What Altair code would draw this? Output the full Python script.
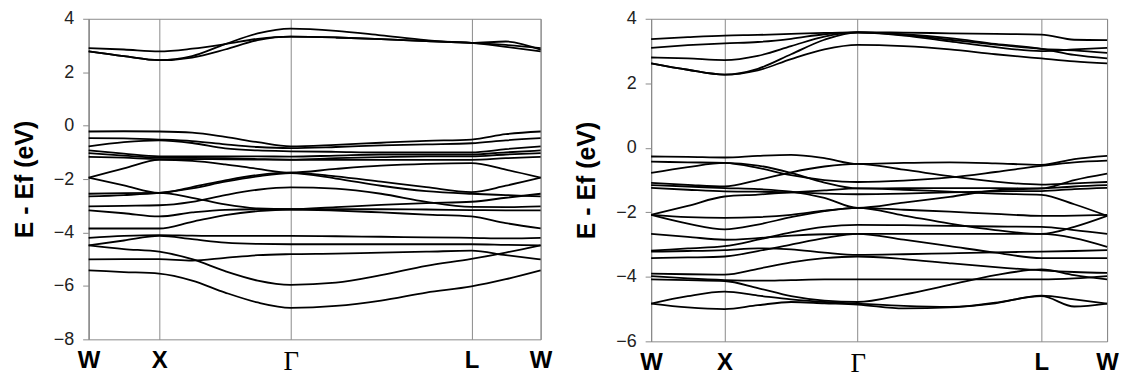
import altair as alt
import pandas as pd

# ---- k-path sample positions (fraction of path length) ----
# columns: W, W-X, X, X-G (3 points), Gamma, G-L (3 points), L, L-W, W
k_left = [0.0, 0.078, 0.156, 0.229, 0.302, 0.374, 0.447, 0.547, 0.647, 0.747, 0.847, 0.923, 1.0]
k_right = [0.0, 0.0805, 0.161, 0.234, 0.307, 0.380, 0.453, 0.554, 0.655, 0.755, 0.856, 0.928, 1.0]

sym_left = [0.0, 0.156, 0.447, 0.847, 1.0]
sym_right = [0.0, 0.161, 0.453, 0.856, 1.0]
sym_names = ["W", "X", "\u0393", "L", "W"]

# ---- left panel bands (eV) ----
left_conduction = [
    [2.90, 2.85, 2.78, 2.88, 3.05, 3.25, 3.33, 3.30, 3.24, 3.16, 3.10, 3.02, 2.90],
    [2.78, 2.60, 2.45, 2.60, 3.05, 3.45, 3.63, 3.55, 3.38, 3.20, 3.10, 3.15, 2.84],
    [2.78, 2.60, 2.45, 2.55, 2.85, 3.20, 3.33, 3.30, 3.24, 3.16, 3.10, 2.95, 2.78],
]
left_valence = [
    [-0.22, -0.21, -0.22, -0.26, -0.42, -0.62, -0.78, -0.72, -0.64, -0.57, -0.52, -0.32, -0.22],
    [-0.47, -0.48, -0.52, -0.58, -0.70, -0.80, -0.84, -0.80, -0.74, -0.70, -0.66, -0.55, -0.47],
    [-0.78, -0.62, -0.55, -0.65, -0.85, -0.93, -0.96, -0.98, -1.00, -1.00, -1.00, -0.88, -0.78],
    [-0.93, -1.05, -1.15, -1.15, -1.15, -1.15, -1.16, -1.12, -1.08, -1.08, -1.08, -1.00, -0.93],
    [-1.03, -1.12, -1.20, -1.21, -1.22, -1.25, -1.27, -1.22, -1.18, -1.15, -1.15, -1.08, -1.03],
    [-1.17, -1.20, -1.25, -1.25, -1.26, -1.27, -1.28, -1.28, -1.28, -1.28, -1.28, -1.22, -1.17],
    [-1.95, -1.60, -1.28, -1.32, -1.45, -1.62, -1.76, -1.62, -1.50, -1.43, -1.40, -1.65, -1.95],
    [-1.95, -2.24, -2.52, -2.30, -2.05, -1.85, -1.76, -1.90, -2.10, -2.30, -2.49, -2.25, -1.95],
    [-2.55, -2.53, -2.52, -2.70, -2.95, -3.10, -3.13, -3.05, -2.97, -2.90, -2.85, -2.70, -2.55],
    [-2.65, -2.60, -2.52, -2.35, -2.10, -1.90, -1.78, -1.98, -2.25, -2.45, -2.55, -2.60, -2.65],
    [-3.02, -3.00, -2.98, -2.85, -2.60, -2.40, -2.31, -2.36, -2.55, -2.85, -3.04, -3.05, -3.02],
    [-3.17, -3.28, -3.40, -3.25, -3.15, -3.13, -3.13, -3.13, -3.13, -3.14, -3.16, -3.17, -3.17],
    [-3.85, -3.85, -3.85, -3.60, -3.35, -3.20, -3.14, -3.18, -3.25, -3.33, -3.40, -3.65, -3.85],
    [-4.20, -4.13, -4.10, -4.12, -4.13, -4.13, -4.13, -4.14, -4.16, -4.18, -4.20, -4.22, -4.20],
    [-4.48, -4.30, -4.13, -4.25, -4.38, -4.43, -4.44, -4.44, -4.44, -4.44, -4.44, -4.46, -4.48],
    [-4.48, -4.62, -4.72, -5.00, -5.45, -5.80, -5.96, -5.88, -5.60, -5.25, -4.99, -4.75, -4.48],
    [-5.01, -5.00, -5.00, -5.05, -4.95, -4.85, -4.81, -4.79, -4.75, -4.72, -4.68, -4.85, -5.01],
    [-5.42, -5.48, -5.54, -5.80, -6.25, -6.62, -6.82, -6.75, -6.55, -6.25, -6.02, -5.75, -5.42],
]

# ---- right panel bands (eV) ----
right_conduction = [
    [3.37, 3.43, 3.48, 3.50, 3.53, 3.56, 3.58, 3.57, 3.55, 3.53, 3.51, 3.35, 3.34],
    [3.10, 3.18, 3.24, 3.28, 3.38, 3.52, 3.58, 3.50, 3.35, 3.20, 3.07, 3.02, 2.94],
    [2.80, 2.77, 2.72, 2.85, 3.15, 3.45, 3.58, 3.48, 3.30, 3.12, 3.00, 3.05, 3.10],
    [2.62, 2.42, 2.27, 2.40, 2.75, 3.05, 3.19, 3.15, 3.05, 2.90, 2.77, 2.68, 2.62],
    [2.62, 2.42, 2.27, 2.45, 2.90, 3.35, 3.58, 3.52, 3.40, 3.22, 3.07, 2.88, 2.77],
]
right_valence = [
    [-0.27, -0.28, -0.30, -0.25, -0.22, -0.32, -0.50, -0.47, -0.45, -0.48, -0.53, -0.35, -0.25],
    [-0.43, -0.45, -0.47, -0.62, -0.85, -1.00, -1.06, -1.02, -0.92, -0.75, -0.56, -0.45, -0.40],
    [-0.78, -0.60, -0.47, -0.55, -0.78, -1.08, -1.26, -1.25, -1.25, -1.25, -1.26, -1.00, -0.80],
    [-1.09, -1.15, -1.20, -1.00, -0.76, -0.58, -0.50, -0.68, -0.88, -1.05, -1.14, -1.10, -1.06],
    [-1.16, -1.20, -1.25, -1.28, -1.36, -1.55, -1.86, -1.70, -1.52, -1.32, -1.26, -1.20, -1.16],
    [-1.24, -1.30, -1.35, -1.36, -1.38, -1.42, -1.44, -1.42, -1.38, -1.35, -1.34, -1.28, -1.24],
    [-2.08, -1.80, -1.51, -1.45, -1.38, -1.32, -1.26, -1.30, -1.36, -1.42, -1.46, -1.75, -2.11],
    [-2.08, -2.15, -2.17, -2.15, -2.08, -1.95, -1.86, -1.92, -1.98, -2.05, -2.11, -2.10, -2.08],
    [-2.08, -2.35, -2.53, -2.38, -2.15, -1.96, -1.86, -2.10, -2.35, -2.55, -2.67, -2.45, -2.11],
    [-2.67, -2.76, -2.85, -2.80, -2.72, -2.68, -2.67, -2.67, -2.67, -2.67, -2.67, -2.80, -3.07],
    [-3.19, -3.12, -3.05, -2.85, -2.62, -2.45, -2.39, -2.40, -2.42, -2.44, -2.45, -2.55, -2.67],
    [-3.22, -3.20, -3.17, -3.12, -3.15, -3.25, -3.32, -3.30, -3.27, -3.24, -3.22, -3.20, -3.17],
    [-3.42, -3.40, -3.37, -3.20, -3.00, -2.80, -2.67, -2.85, -3.05, -3.25, -3.42, -3.42, -3.42],
    [-3.90, -3.92, -3.93, -3.75, -3.55, -3.42, -3.37, -3.45, -3.58, -3.70, -3.80, -3.85, -3.88],
    [-3.98, -4.05, -4.10, -4.12, -4.10, -4.08, -4.08, -4.08, -4.08, -4.08, -4.08, -4.05, -3.98],
    [-4.08, -4.10, -4.13, -4.35, -4.60, -4.74, -4.78, -4.55, -4.25, -3.95, -3.77, -3.95, -4.08],
    [-4.83, -4.60, -4.46, -4.58, -4.70, -4.78, -4.83, -4.90, -4.93, -4.82, -4.58, -4.70, -4.83],
    [-4.83, -4.95, -5.00, -4.88, -4.78, -4.82, -4.86, -4.98, -4.95, -4.80, -4.60, -4.92, -4.83],
]

left_yticks = [-8, -6, -4, -2, 0, 2, 4]
right_yticks = [-6, -4, -2, 0, 2, 4]
y_title = "E - Ef (eV)"

GRAY = "#8a8a8a"


def to_frame(k, bands):
    rows = []
    for i, band in enumerate(bands):
        for kk, e in zip(k, band):
            rows.append({"k": kk, "E": e, "band": i})
    return pd.DataFrame(rows)


def label_expr(sym):
    return (
        f"datum.value < {(sym[0] + sym[1]) / 2} ? '{sym_names[0]}' : "
        f"datum.value < {(sym[1] + sym[2]) / 2} ? '{sym_names[1]}' : "
        f"datum.value < {(sym[2] + sym[3]) / 2} ? '{sym_names[2]}' : "
        f"datum.value < {(sym[3] + sym[4]) / 2} ? '{sym_names[3]}' : '{sym_names[4]}'"
    )


def panel(df, sym, ydom, yticks, w, h):
    lo = (sym[1] + sym[2]) / 2
    hi = (sym[2] + sym[3]) / 2
    gamma_test = f"datum.value > {lo} && datum.value < {hi}"
    return alt.Chart(df).mark_line(
        color="black", strokeWidth=1.8, interpolate="monotone"
    ).encode(
        x=alt.X(
            "k:Q",
            scale=alt.Scale(domain=[0, 1], nice=False, zero=False),
            axis=alt.Axis(
                values=sym,
                labelExpr=label_expr(sym),
                grid=True,
                gridColor=GRAY,
                gridWidth=1,
                tickSize=0,
                domain=False,
                labelFontSize={"condition": {"test": gamma_test, "value": 27}, "value": 24},
                labelFont={"condition": {"test": gamma_test, "value": "Liberation Serif"}, "value": "Liberation Sans"},
                labelFontWeight={"condition": {"test": gamma_test, "value": "normal"}, "value": "bold"},
                labelColor="black",
                labelPadding=9,
                labelFlush=False,
                labelOverlap=False,
                title=None,
            ),
        ),
        y=alt.Y(
            "E:Q",
            scale=alt.Scale(domain=ydom, nice=False, zero=False),
            axis=alt.Axis(
                values=yticks,
                grid=False,
                tickSize=6,
                tickColor=GRAY,
                domainColor=GRAY,
                labelFont="Liberation Sans",
                labelFontSize=18,
                labelColor="#222222",
                labelPadding=9,
                title=y_title,
                titleFont="Liberation Sans",
                titleFontSize=25,
                titleFontWeight="bold",
                titleColor="black",
                titlePadding=16,
            ),
        ),
        detail="band:N",
    ).properties(width=w, height=h)


left_df = to_frame(k_left, left_conduction + left_valence)
right_df = to_frame(k_right, right_conduction + right_valence)

left = panel(left_df, sym_left, [-8, 4], left_yticks, 454, 322)
right = panel(right_df, sym_right, [-6, 4], right_yticks, 458, 324)

chart = alt.hconcat(left, right, spacing=111, bounds="flush").configure_view(
    stroke=GRAY, strokeWidth=1
).properties(
    background="white",
    padding={"left": 3, "top": 0, "right": 5, "bottom": 0},
)

chart.save("out.html", embed_options={"renderer": "svg", "actions": False})
